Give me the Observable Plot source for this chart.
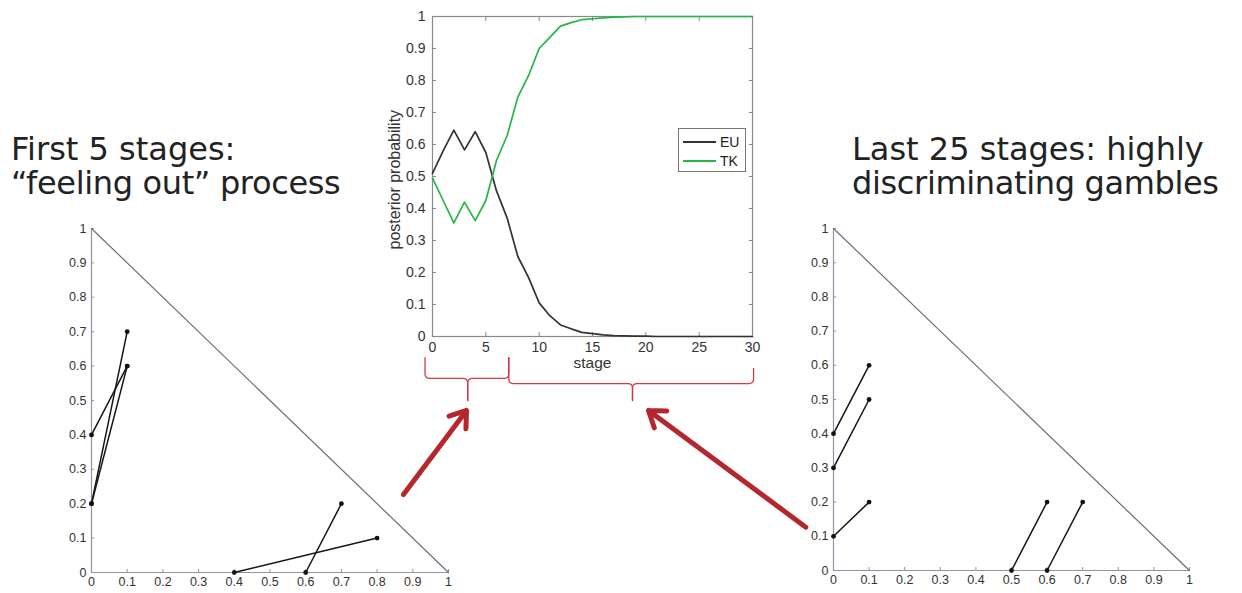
<!DOCTYPE html>
<html>
<head>
<meta charset="utf-8">
<script src="https://cdn.jsdelivr.net/npm/d3@7"></script>
<script src="https://cdn.jsdelivr.net/npm/@observablehq/plot@0.6"></script>
<style>
  html, body { margin: 0; padding: 0; background: #fff; }
  #stage { position: relative; width: 1242px; height: 593px; overflow: hidden; }
  #stage svg { position: absolute; left: 0; top: 0; }
  .title {
    position: absolute; white-space: nowrap; color: #222;
    font-family: "DejaVu Sans", Verdana, sans-serif; font-size: 32px; line-height: 34px;
  }
  .title .l2 { letter-spacing: -0.35px; }
  .legend {
    position: absolute; box-sizing: border-box; background: #fff;
    border: 1px solid #777; font-family: "Liberation Sans", Arial, sans-serif; font-size: 14px; color: #222;
  }
  .legend .key { position: absolute; left: 4px; width: 33px; height: 0; border-top: 2px solid; }
  .legend .name { position: absolute; left: 41px; line-height: 16px; }
</style>
</head>
<body>
<div id="stage"></div>
<script>
// ---- posterior model probabilities over the 30 design stages ----
const stages = [0,1,2,3,4,5,6,7,8,9,10,11,12,13,14,15,16,17,18,19,20,21,22,23,24,25,26,27,28,29,30];
const euPosterior = [0.51,0.58,0.645,0.583,0.64,0.575,0.455,0.37,0.25,0.185,0.105,0.065,0.036,0.024,0.013,0.009,0.005,0.003,0.002,0.001,0.001,0,0,0,0,0,0,0,0,0,0];
const tkPosterior = [0.495,0.425,0.355,0.42,0.362,0.425,0.55,0.628,0.748,0.815,0.9,0.935,0.97,0.981,0.99,0.993,0.996,0.998,0.999,1,1,1,1,1,1,1,1,1,1,1,1];
const models = ["EU", "TK"];
const modelColors = ["#333333", "#26b548"];
const stageTicks = [0,5,10,15,20,25,30];
const probTicks = [0,0.1,0.2,0.3,0.4,0.5,0.6,0.7,0.8,0.9,1];

// ---- chosen gamble pairs in the probability triangle (p_low, p_high) ----
const earlyX1 = [0, 0, 0, 0.4, 0.6];
const earlyY1 = [0.4, 0.2, 0.2, 0, 0];
const earlyX2 = [0.1, 0.1, 0.1, 0.8, 0.7];
const earlyY2 = [0.6, 0.7, 0.6, 0.1, 0.2];

const lateX1 = [0, 0, 0, 0.5, 0.6];
const lateY1 = [0.4, 0.3, 0.1, 0, 0];
const lateX2 = [0.1, 0.1, 0.1, 0.6, 0.7];
const lateY2 = [0.6, 0.5, 0.2, 0.2, 0.2];

// triangle boundary p_low + p_high = 1
const edgeX = [0, 1];
const edgeY = [1, 0];

// ---- annotations on the stage axis: phase braces and pointers ----
const phaseStart = [-0.7, 7.15];
const phaseEnd = [7.15, 30.1];
const phaseTip = [3.3, 18.75];
const phaseTopStart = [-0.066, -0.066];
const phaseTopEnd = [-0.066, -0.1];
const phaseBar = [-0.131, -0.147];
const phaseTipY = [-0.2, -0.2];

const pointerX1 = [-2.72, 35.0];
const pointerY1 = [-0.494, -0.596];
const pointerX2 = [3.19, 20.25];
const pointerY2 = [-0.231, -0.231];

const W = 1242, H = 593;
const fmt = d => String(+d.toFixed(1));
const axisFont = '"Liberation Sans", Arial, sans-serif';
const root = document.getElementById("stage");

// ---------- triangle panels ----------
function simplexPlot(x1, y1, x2, y2, margins) {
  const pairs = x1.map((_, i) => ({x1: x1[i], y1: y1[i], x2: x2[i], y2: y2[i]}));
  const ends = pairs.flatMap(d => [{x: d.x1, y: d.y1}, {x: d.x2, y: d.y2}]);
  const edge = edgeX.map((x, i) => ({x, y: edgeY[i]}));
  const axisColor = "#8c96a6";
  return Plot.plot({
    width: W, height: H, ...margins,
    style: {background: "none", overflow: "visible", fontFamily: axisFont, fontSize: "12.5px"},
    x: {domain: [0, 1]},
    y: {domain: [0, 1]},
    marks: [
      Plot.ruleX([0], {stroke: axisColor, strokeWidth: 1.2}),
      Plot.ruleY([0], {stroke: axisColor, strokeWidth: 1.2}),
      Plot.axisX({ticks: probTicks, tickFormat: fmt, tickSize: -3, tickPadding: 8, label: null, stroke: axisColor, fill: "#333"}),
      Plot.axisY({ticks: probTicks, tickFormat: fmt, tickSize: -3, tickPadding: 8, label: null, stroke: axisColor, fill: "#333"}),
      Plot.line(edge, {x: "x", y: "y", stroke: "#6b6f76", strokeWidth: 1.2}),
      Plot.link(pairs, {x1: "x1", y1: "y1", x2: "x2", y2: "y2", stroke: "#151515", strokeWidth: 1.5}),
      Plot.dot(ends, {x: "x", y: "y", r: 2.4, fill: "#111", stroke: null})
    ]
  });
}

root.appendChild(simplexPlot(earlyX1, earlyY1, earlyX2, earlyY2,
  {marginLeft: 91, marginRight: W - 448, marginTop: 228, marginBottom: H - 572}));
root.appendChild(simplexPlot(lateX1, lateY1, lateX2, lateY2,
  {marginLeft: 833, marginRight: W - 1189, marginTop: 228, marginBottom: H - 570}));

// ---------- posterior probability panel ----------
const lineRows = models.flatMap((m, j) =>
  stages.map((s, i) => ({model: m, stage: s, p: (j === 0 ? euPosterior : tkPosterior)[i]})));

function quad(p0, c, p2, steps) {
  const out = [];
  for (let k = 1; k < steps; k++) {
    const t = k / steps, u = 1 - t;
    out.push({x: u * u * p0.x + 2 * u * t * c.x + t * t * p2.x, y: u * u * p0.y + 2 * u * t * c.y + t * t * p2.y});
  }
  return out;
}
// one half of a curly brace: from an end, along the bar, down to the tip
function braceHalf(key, xEnd, yEnd, xTip, yBar, yTip) {
  const rx = 0.45, ry = 0.015, dir = Math.sign(xTip - xEnd);
  const a = {x: xEnd, y: yBar + ry}, b = {x: xEnd + dir * rx, y: yBar};
  const c = {x: xTip - dir * rx, y: yBar}, d = {x: xTip, y: yBar - ry};
  return [{x: xEnd, y: yEnd}, a, ...quad(a, {x: xEnd, y: yBar}, b, 5), b, c,
          ...quad(c, {x: xTip, y: yBar}, d, 5), d, {x: xTip, y: yTip}]
    .map(p => ({...p, key}));
}
const braceRows = phaseStart.flatMap((x0, i) => [
  ...braceHalf(`${i}a`, x0, phaseTopStart[i], phaseTip[i], phaseBar[i], phaseTipY[i]),
  ...braceHalf(`${i}b`, phaseEnd[i], phaseTopEnd[i], phaseTip[i], phaseBar[i], phaseTipY[i])
]);
const pointers = pointerX1.map((x, i) => ({x1: x, y1: pointerY1[i], x2: pointerX2[i], y2: pointerY2[i]}));

root.appendChild(Plot.plot({
  width: W, height: H,
  marginLeft: 432, marginRight: W - 752, marginTop: 16, marginBottom: H - 336,
  style: {background: "none", overflow: "visible", fontFamily: axisFont, fontSize: "14px"},
  x: {domain: [0, 30]},
  y: {domain: [0, 1]},
  color: {domain: models, range: modelColors},
  marks: [
    Plot.frame({stroke: "#858a92", strokeWidth: 1.2}),
    Plot.axisX({anchor: "bottom", ticks: stageTicks, tickSize: -4, tickPadding: 10, label: null, stroke: "#858a92", fill: "#333"}),
    Plot.axisX({anchor: "top", ticks: stageTicks, tickSize: -4, tickFormat: () => "", label: null, stroke: "#858a92"}),
    Plot.axisY({anchor: "left", ticks: probTicks, tickFormat: fmt, tickSize: -4, tickPadding: 11, label: null, stroke: "#858a92", fill: "#333"}),
    Plot.axisY({anchor: "right", ticks: probTicks, tickSize: -4, tickFormat: () => "", label: null, stroke: "#858a92"}),
    Plot.line(lineRows, {x: "stage", y: "p", z: "model", stroke: "model", strokeWidth: 1.7}),
    Plot.text([{t: "stage", x: 15}], {x: "x", text: "t", frameAnchor: "bottom", dy: 31, fontSize: 15.5, fill: "#333"}),
    Plot.text([{t: "posterior probability", y: 0.49}], {y: "y", text: "t", frameAnchor: "left", textAnchor: "middle", dx: -38, rotate: -90, fontSize: 16, fill: "#333"}),
    Plot.line(braceRows, {x: "x", y: "y", z: "key", stroke: "#d23a40", strokeWidth: 1.3}),
    Plot.arrow(pointers, {x1: "x1", y1: "y1", x2: "x2", y2: "y2", stroke: "#b5262d", strokeWidth: 5, headLength: 5.5, headAngle: 70})
  ]
}));

// ---------- legend ----------
const legend = document.createElement("div");
legend.className = "legend";
Object.assign(legend.style, {left: "678px", top: "128px", width: "68px", height: "44px"});
models.forEach((m, i) => {
  const cy = 12 + i * 19;
  const key = document.createElement("div");
  key.className = "key";
  Object.assign(key.style, {top: `${cy}px`, borderTopColor: modelColors[i]});
  const name = document.createElement("div");
  name.className = "name";
  name.style.top = `${cy - 7}px`;
  name.textContent = m;
  legend.append(key, name);
});
root.appendChild(legend);

// ---------- panel headings ----------
function heading(lines, left) {
  const el = document.createElement("div");
  el.className = "title";
  el.style.left = `${left}px`;
  el.style.top = "132px";
  lines.forEach((line, i) => {
    const span = document.createElement("div");
    span.className = i ? "l2" : "l1";
    span.textContent = line;
    el.appendChild(span);
  });
  root.appendChild(el);
}
heading(["First 5 stages:", "\u201cfeeling out\u201d process"], 11);
heading(["Last 25 stages: highly", "discriminating gambles"], 852);
</script>
</body>
</html>
